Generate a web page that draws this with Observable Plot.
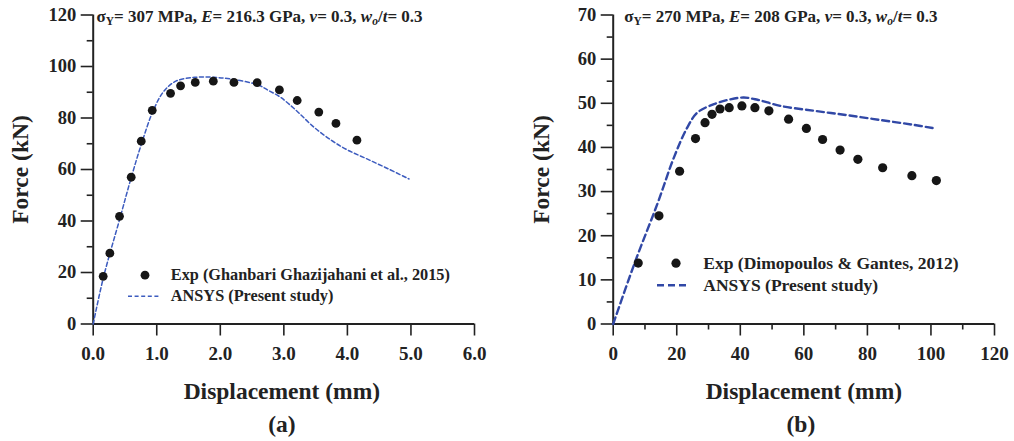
<!DOCTYPE html>
<html>
<head>
<meta charset="utf-8">
<script src="https://cdn.jsdelivr.net/npm/d3@7"></script>
<script src="https://cdn.jsdelivr.net/npm/@observablehq/plot@0.6"></script>
<style>
  html, body { margin: 0; padding: 0; background: #fff; font-family: 'Liberation Serif', serif; }
  #wrap { position: relative; width: 1014px; height: 441px; display: flex; }
  .panel { position: relative; width: 507px; height: 441px; }
  .panel svg, .panel svg text { font-family: 'Liberation Serif', serif !important; font-weight: bold; }
  .ov { position: absolute; font-family: 'Liberation Serif', serif; font-weight: bold; color: #222; white-space: nowrap; }
  .title { font-size: 17px; line-height: 20px; }
  .title sub { font-size: 11.5px; vertical-align: -3px; line-height: 0; }
  .legrow { display: flex; align-items: center; }
  .legrow svg { display: block; }
</style>
</head>
<body>
<div id="wrap">
  <div class="panel" id="pa"></div>
  <div class="panel" id="pb"></div>
</div>
<script>
// ---- Panel (a) data ----
const expA_x = [0.157, 0.262, 0.414, 0.598, 0.756, 0.929, 1.217, 1.375, 1.606, 1.89, 2.215, 2.58, 2.93, 3.21, 3.55, 3.82, 4.15];
const expA_y = [18.5, 27.5, 41.8, 57.0, 71.0, 83.0, 89.6, 92.5, 93.8, 94.3, 93.8, 93.7, 90.9, 86.8, 82.3, 77.9, 71.4];
const femA_x = [0, 0.16, 0.42, 0.6, 0.76, 0.93, 1.1, 1.3, 1.6, 1.9, 2.2, 2.6, 2.75, 2.95, 3.2, 3.47, 3.75, 4.0, 4.3, 4.63, 4.97];
const femA_y = [0, 18, 41, 57, 70, 82, 90, 94.3, 95.8, 95.8, 95, 92.8, 90.8, 88, 82.8, 76.5, 71.3, 67.6, 64.2, 60.4, 56.3];
const ticksA_x = [0, 1, 2, 3, 4, 5, 6];
const ticksA_y = [0, 20, 40, 60, 80, 100, 120];
const minorA_y = [10, 30, 50, 70, 90, 110];

// ---- Panel (b) data ----
const expB_x = [7.87, 14.4, 20.9, 25.9, 28.9, 31.1, 33.6, 36.5, 40.5, 44.6, 49.0, 55.2, 60.8, 65.9, 71.4, 77.0, 84.8, 94.0, 101.7];
const expB_y = [13.8, 24.5, 34.6, 42.0, 45.6, 47.5, 48.7, 49.0, 49.4, 49.0, 48.3, 46.4, 44.3, 41.8, 39.4, 37.3, 35.4, 33.6, 32.5];
const femB_x = [0, 7.0, 13.9, 19.1, 23.3, 26.5, 31.7, 36.9, 41.1, 45.4, 52.7, 63.2, 73.7, 84.2, 94.7, 100.5];
const femB_y = [0, 14.3, 27.2, 37.7, 44.5, 47.9, 49.8, 50.9, 51.3, 50.8, 49.4, 48.3, 47.3, 46.2, 45.1, 44.4];
const ticksB_x = [0, 20, 40, 60, 80, 100, 120];
const minorB_x = [10, 30, 50, 70, 90, 110];
const ticksB_y = [0, 10, 20, 30, 40, 50, 60, 70];
const minorB_y = [5, 15, 25, 35, 45, 55, 65];

const FONT = "Liberation Serif, serif";
const INK = "#222";

function zip(xs, ys) { return xs.map((x, i) => ({x, y: ys[i]})); }

function makePanel(o) {
  return Plot.plot({
    width: 507, height: 441,
    marginTop: 14.5, marginBottom: 117.5,
    marginLeft: o.ml, marginRight: o.mr,
    style: {fontFamily: FONT, fontWeight: "bold", color: INK, background: "white", overflow: "visible"},
    x: {domain: o.xd, nice: false},
    y: {domain: o.yd, nice: false},
    marks: [
      Plot.axisY({ticks: o.ty, tickSize: 12, tickPadding: 5, fontSize: 18.5, stroke: INK, strokeWidth: 1.6, label: null, tickFormat: d => String(d)}),
      Plot.axisY({ticks: o.myy, tickSize: 6, text: null, stroke: INK, strokeWidth: 1.6, label: null}),
      Plot.axisX({ticks: o.tx, tickSize: 12, tickPadding: 10, fontSize: 19, stroke: INK, strokeWidth: 1.6, label: null, tickFormat: o.fx}),
      ...(o.mxx ? [Plot.axisX({ticks: o.mxx, tickSize: 6, text: null, stroke: INK, strokeWidth: 1.6, label: null})] : []),
      Plot.ruleX([o.xd[0]], {y1: o.yd[0], y2: o.yd[1], stroke: INK, strokeWidth: 2}),
      Plot.ruleY([o.yd[0]], {x1: o.xd[0], x2: o.xd[1], stroke: INK, strokeWidth: 2}),
      Plot.line(zip(o.fx_, o.fy_), {x: "x", y: "y", stroke: o.lc, strokeWidth: o.lw, strokeDasharray: o.dash, curve: "catmull-rom"}),
      Plot.dot(zip(o.ex, o.ey), {x: "x", y: "y", r: o.r, fill: "#161616", stroke: "none"}),
      Plot.text(["Force (kN)"], {frameAnchor: "left", textAnchor: "middle", dx: o.ylabdx, rotate: -90, fontSize: 23.5, fill: INK, fontWeight: "bold"}),
      Plot.text(["Displacement (mm)"], {frameAnchor: "bottom", dy: 75, dx: o.xlabdx, fontSize: 23.5, fill: INK, fontWeight: "bold"}),
      Plot.text([o.tag], {frameAnchor: "bottom", dy: 108, dx: o.tagdx, fontSize: 23.5, fill: INK, fontWeight: "bold"})
    ]
  });
}

const pa = makePanel({
  ml: 92.7, mr: 33, xd: [0, 6], yd: [0, 120],
  tx: ticksA_x, ty: ticksA_y, myy: minorA_y, mxx: null,
  fx: d => d.toFixed(1),
  fx_: femA_x, fy_: femA_y, ex: expA_x, ey: expA_y, r: 4.4,
  lc: "#3d5cbf", lw: 1.5, dash: "4,2.6", tag: "(a)", tagdx: -2, xlabdx: -2, ylabdx: -72.5
});
const pb = makePanel({
  ml: 105.7, mr: 20, xd: [0, 120], yd: [0, 70],
  tx: ticksB_x, ty: ticksB_y, myy: minorB_y, mxx: minorB_x,
  fx: d => String(d),
  fx_: femB_x, fy_: femB_y, ex: expB_x, ey: expB_y, r: 4.6,
  lc: "#3148a6", lw: 2.4, dash: "7,4", tag: "(b)", tagdx: -3, xlabdx: 0, ylabdx: -71.7
});
document.getElementById("pa").appendChild(pa);
document.getElementById("pb").appendChild(pb);

// ---- Titles and legends (overlays) ----
function addTitle(el, html, left, top) {
  const d = document.createElement("div");
  d.className = "ov title";
  d.style.left = left + "px"; d.style.top = top + "px";
  d.innerHTML = html;
  el.appendChild(d);
}
addTitle(document.getElementById("pa"),
  'σ<sub>Y</sub>= 307 MPa, <i>E</i>= 216.3 GPa, <i>ν</i>= 0.3, <i>w<sub>o</sub></i>/<i>t</i>= 0.3', 96.5, 7);
addTitle(document.getElementById("pb"),
  'σ<sub>Y</sub>= 270 MPa, <i>E</i>= 208 GPa, <i>ν</i>= 0.3, <i>w<sub>o</sub></i>/<i>t</i>= 0.3', 117.3, 7);

const legA = ["Exp (Ghanbari Ghazijahani et al., 2015)", "ANSYS (Present study)"];
const legB = ["Exp (Dimopoulos & Gantes, 2012)", "ANSYS (Present study)"];

function addLegend(el, labels, o) {
  const box = document.createElement("div");
  box.className = "ov";
  box.style.left = o.left + "px"; box.style.top = o.top + "px";
  labels.forEach((lab, i) => {
    const row = document.createElement("div");
    row.className = "legrow";
    row.style.fontSize = o.fs + "px";
    row.style.height = o.rh + "px";
    const sw = o.sw;
    const svg = d3.create("svg").attr("width", sw).attr("height", o.rh);
    if (i === 0) {
      svg.append("circle").attr("cx", o.dotx).attr("cy", o.rh / 2).attr("r", o.r).attr("fill", "#161616");
    } else {
      svg.append("line").attr("x1", 0).attr("x2", o.linew).attr("y1", o.rh / 2).attr("y2", o.rh / 2)
        .attr("stroke", o.lc).attr("stroke-width", o.lw).attr("stroke-dasharray", o.dash);
    }
    row.appendChild(svg.node());
    const sp = document.createElement("span");
    sp.style.marginLeft = o.gap + "px";
    sp.textContent = lab;
    row.appendChild(sp);
    box.appendChild(row);
  });
  el.appendChild(box);
}
addLegend(document.getElementById("pa"), legA, {left: 128.3, top: 265.2, rh: 20.4, sw: 32, dotx: 17, r: 4.4, linew: 32, gap: 10.5, fs: 16.3, lc: "#3d5cbf", lw: 1.5, dash: "4,2.6"});
addLegend(document.getElementById("pb"), legB, {left: 150.3, top: 252.1, rh: 22.4, sw: 33, dotx: 19, r: 4.6, linew: 33, gap: 13, fs: 17.5, lc: "#3148a6", lw: 2.4, dash: "7,4"});
</script>
</body>
</html>
